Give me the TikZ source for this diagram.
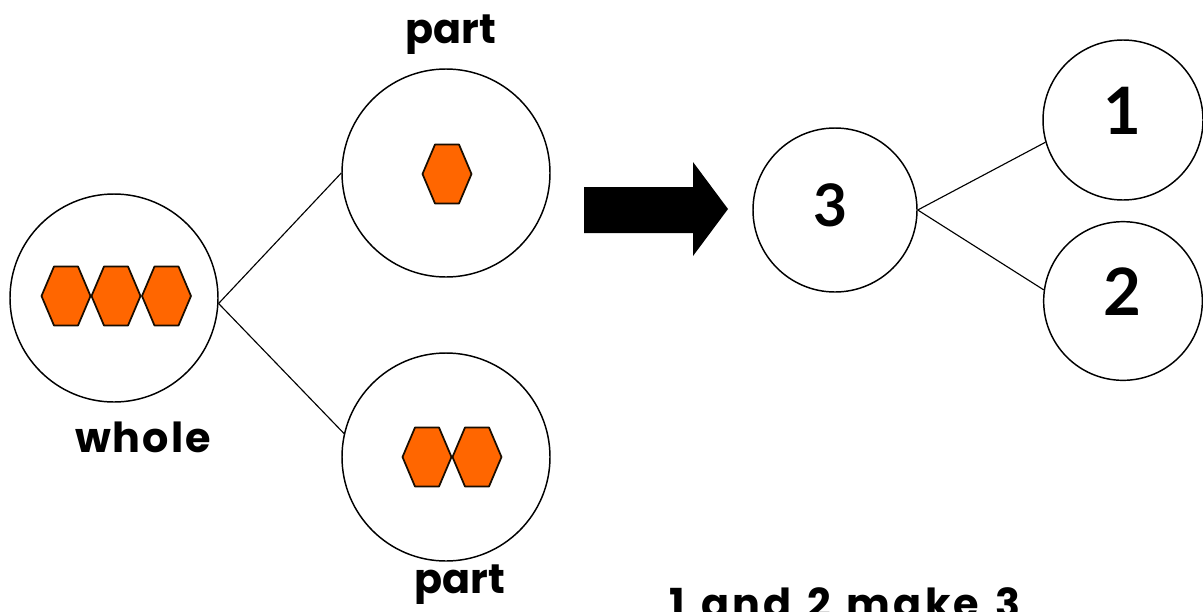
\documentclass[tikz,border=0pt]{standalone}
\usepackage{fontspec}
\setmainfont{Poppins}
\newfontfamily\digitfont{Lato}
\newfontfamily\widefont[LetterSpace=5]{Poppins}
\newfontfamily\widerfont[LetterSpace=8, WordSpace=1.3]{Poppins}
\definecolor{hexorange}{HTML}{FF6600}
\tikzset{
  ring/.style={draw=black, line width=1.1pt, circle, inner sep=0pt},
  link/.style={draw=black, line width=0.85pt},
  lbl/.style={font=\fontsize{31}{36}\selectfont\bfseries, anchor=base, inner sep=0pt},
  digit/.style={font=\digitfont\fontsize{49}{56}\selectfont\bfseries, anchor=base, inner sep=0pt},
  hexagon/.pic={\filldraw[fill=hexorange, draw=black!90!orange, line width=1.3pt, line join=round]
     (-24.5,0) -- (-12,-29.5) -- (12,-29.5) -- (24.5,0) -- (12,29.5) -- (-12,29.5) -- cycle;}
}
\begin{document}
\begin{tikzpicture}[x=0.75pt, y=-0.75pt]
\clip (0,0) rectangle (1203,611);
\fill[white] (0,0) rectangle (1203,611);

% left part-whole model
\node[ring, minimum size=156pt] (whole) at (114,298) {};
\node[ring, minimum size=156pt] (ptop) at (446,173) {};
\node[ring, minimum size=156pt] (pbot) at (446,457) {};
\draw[link] (whole.-3) -- (ptop.west);
\draw[link] (whole.-3) -- (pbot.167);

\pic at (66,296) {hexagon};
\pic at (116,296) {hexagon};
\pic at (166.5,296) {hexagon};
\pic at (447,174) {hexagon};
\pic at (427,457) {hexagon};
\pic at (477,457) {hexagon};

\node[lbl] (tpart) at (451,43) {part};
\node[lbl, font=\widefont\fontsize{31}{36}\selectfont\bfseries] (twhole) at (143,452) {whole};
\node[lbl] (bpart) at (460,593) {part};

% big arrow
\fill[black] (584,187) -- (693,187) -- (693,162) -- (728,209) -- (693,256) -- (693,233) -- (584,233) -- cycle;

% number bond
\node[ring, minimum size=123pt] (c3) at (835,210) {};
\node[ring, minimum size=120pt] (c1) at (1123,120) {};
\node[ring, minimum size=119pt] (c2) at (1123,301) {};
\draw[link] (c3.east) -- (c1.196);
\draw[link] (c3.east) -- (c2.172);
\node[digit, font=\digitfont\fontsize{44}{50}\selectfont\bfseries] (n3) at (831,226) {3};
\node[digit] (n1) at (1122,134) {1};
\node[digit] (n2) at (1122,315) {2};

\node[lbl, font=\widerfont\fontsize{31}{36}\selectfont\bfseries] (sentence) at (845,618) {1 and 2 make 3};
\end{tikzpicture}
\end{document}
